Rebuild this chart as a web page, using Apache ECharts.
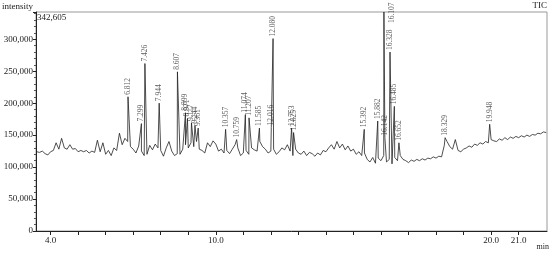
<!DOCTYPE html>
<html>
<head>
<meta charset="utf-8">
<script src="https://cdn.jsdelivr.net/npm/echarts@6/dist/echarts.min.js"></script>
<style>
html, body { margin: 0; padding: 0; background: #fff; }
#chart { width: 550px; height: 255px; }
</style>
</head>
<body>
<div id="chart"></div>
<script>
// baseline of the TIC trace, read every 0.1 min from 3.5 to 22.0 (x1000 counts)
var baseStart = 3.5;
var baseStep = 0.1;
var baseline = [
  124, 123, 125, 121, 119,
  124, 126, 138, 128, 145, 130, 128, 135, 128, 129,
  124, 126, 124, 126, 122, 125, 123, 142, 124, 138,
  120, 126, 118, 130, 126, 153, 135, 145, 140, 132,
  128, 122, 133, 125, 118, 120, 134, 127, 136, 130,
  126, 117, 130, 140, 125, 118, 121, 120, 128, 135,
  130, 138, 132, 140, 128, 126, 122, 138, 132, 141,
  136, 125, 128, 122, 126, 121, 128, 135, 130, 118,
  122, 126, 120, 130, 127, 125, 140, 132, 128, 122,
  125, 128, 120, 124, 130, 127, 135, 125, 118, 128,
  122, 120, 125, 118, 123, 121, 117, 122, 119, 126,
  124, 130, 135, 128, 140, 130, 136, 127, 133, 125,
  128, 120, 124, 118, 122, 112, 108, 115, 106, 114,
  110, 118, 108, 112, 105, 115, 110, 118, 112, 110,
  107, 111, 109, 112, 110, 113, 111, 114, 113, 116,
  114, 117, 116, 134, 140, 132, 128, 143, 126, 124,
  128, 130, 133, 131, 136, 134, 138, 136, 140, 138,
  143, 141, 140, 144, 142, 146, 143, 147, 145, 148,
  146, 149, 147, 150, 148, 151, 150, 153, 152, 155,
  154
];

// labelled peaks: retention time (min) and apex height (x1000 counts)
var peakTimes = [6.812, 7.299, 7.426, 7.944, 8.607, 8.899, 8.971, 9.117, 9.244, 9.361,
  10.357, 10.759, 11.074, 11.207, 11.585, 12.016, 12.080, 12.753, 12.825,
  15.392, 15.882, 16.107, 16.142, 16.328, 16.485, 16.652, 18.329, 19.948];
var peakHeights = [210, 168, 262, 200, 249, 185, 176, 169, 165, 161,
  159, 143, 182, 177, 161, 162, 301, 161, 154,
  159, 172, 342.605, 146, 280, 195, 138, 146, 167];

var xTicks = [4, 5, 6, 7, 8, 9, 10, 11, 12, 13, 14, 15, 16, 17, 18, 19, 20, 21];
var xLabels = [4, 10, 20, 21];

var trace = [];
baseline.forEach(function (v, i) {
  trace.push([+(baseStart + i * baseStep).toFixed(2), v * 1000]);
});
peakTimes.forEach(function (t, i) {
  trace.push([t, peakHeights[i] * 1000]);
});
trace.sort(function (a, b) { return a[0] - b[0]; });

var peakPoints = peakTimes.map(function (t, i) {
  var item = { name: t.toFixed(3), value: [t, peakHeights[i] * 1000] };
  // the clipped peak has its label beside the line, near the top edge
  if (t === 16.107) item.label = { offset: [-13, 8] };
  return item;
});

var serif = 'Liberation Serif';
var chart = echarts.init(document.getElementById('chart'), null, { renderer: 'canvas' });
chart.setOption({
  animation: false,
  grid: { left: 36, right: 3, top: 12, bottom: 24, show: true, borderColor: '#999', borderWidth: 1 },
  xAxis: {
    type: 'value', min: 3.47, max: 22.03,
    axisLine: { lineStyle: { color: '#222', width: 1 } },
    axisTick: { customValues: xTicks, length: 4, lineStyle: { color: '#222' } },
    axisLabel: {
      customValues: xLabels, margin: 5,
      fontFamily: serif, fontSize: 9, color: '#222',
      formatter: function (v) { return v.toFixed(1); }
    },
    splitLine: { show: false }
  },
  yAxis: {
    type: 'value', min: 0, max: 342605, interval: 50000,
    axisLine: { show: true, lineStyle: { color: '#222', width: 1 } },
    axisTick: { show: true, length: 3, lineStyle: { color: '#222' } },
    minorTick: { show: true, splitNumber: 5, length: 2, lineStyle: { color: '#555' } },
    axisLabel: {
      showMaxLabel: false, margin: 3,
      fontFamily: serif, fontSize: 9, color: '#222',
      formatter: function (v) { return v.toLocaleString('en-US'); }
    },
    splitLine: { show: false }
  },
  series: [
    {
      type: 'line', data: trace, showSymbol: false, symbol: 'none',
      lineStyle: { color: '#222', width: 0.8 }
    },
    {
      type: 'scatter', data: peakPoints, symbolSize: 0, silent: true,
      label: {
        show: true, position: 'top', distance: 2, rotate: 90,
        align: 'left', verticalAlign: 'middle',
        fontFamily: serif, fontSize: 7.5, color: '#333',
        formatter: function (p) { return p.name; }
      }
    }
  ],
  graphic: [
    { type: 'text', left: 2, top: 2, style: { text: 'intensity', font: '9px "Liberation Serif"', fill: '#222' } },
    { type: 'text', right: 3, top: 1, style: { text: 'TIC', font: '9px "Liberation Serif"', fill: '#222' } },
    { type: 'text', left: 37, top: 13, style: { text: '342,605', font: '9px "Liberation Serif"', fill: '#222' } },
    { type: 'text', right: 1, top: 243, style: { text: 'min', font: '8px "Liberation Serif"', fill: '#222' } }
  ]
});
</script>
</body>
</html>
